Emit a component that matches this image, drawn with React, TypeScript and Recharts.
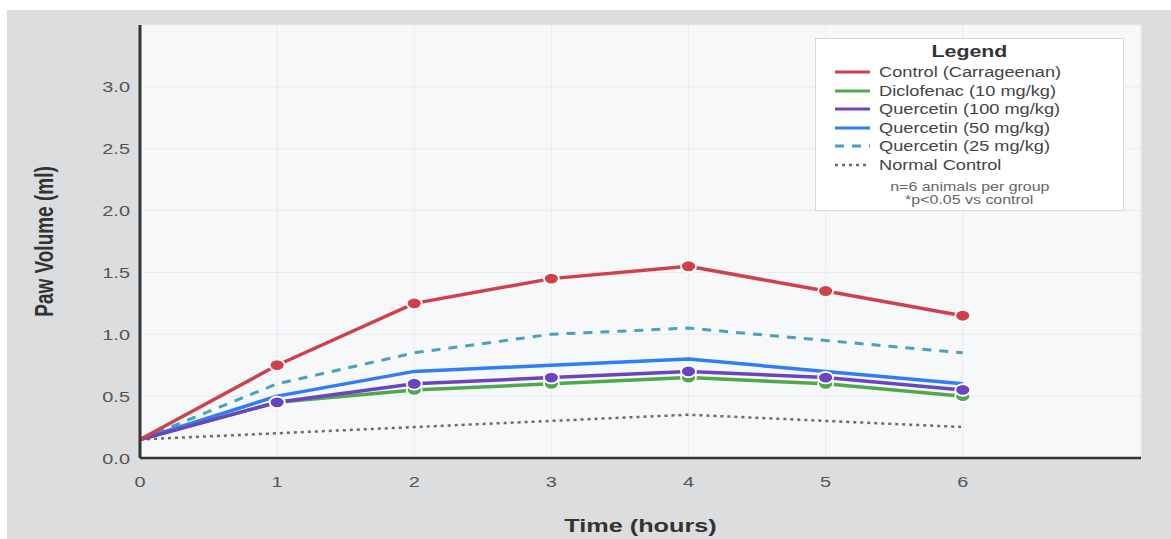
import {
    CartesianGrid,
    Label,
    Line,
    LineChart,
    XAxis,
    YAxis,
} from "recharts";

const hours = [0, 1, 2, 3, 4, 5, 6];
const control = [0.15, 0.75, 1.25, 1.45, 1.55, 1.35, 1.15];
const diclofenac = [0.15, 0.45, 0.55, 0.6, 0.65, 0.6, 0.5];
const quercetin100 = [0.15, 0.45, 0.6, 0.65, 0.7, 0.65, 0.55];
const quercetin50 = [0.15, 0.5, 0.7, 0.75, 0.8, 0.7, 0.6];
const quercetin25 = [0.15, 0.6, 0.85, 1.0, 1.05, 0.95, 0.85];
const normalControl = [0.15, 0.2, 0.25, 0.3, 0.35, 0.3, 0.25];

const xTicks = [0, 1, 2, 3, 4, 5, 6];
const yTicks = [0, 0.5, 1.0, 1.5, 2.0, 2.5, 3.0];

const data = hours.map((h, i) => ({
    time: h,
    control: control[i],
    diclofenac: diclofenac[i],
    q100: quercetin100[i],
    q50: quercetin50[i],
    q25: quercetin25[i],
    normal: normalControl[i],
}));

const series = [
    { key: "control", name: "Control (Carrageenan)", color: "#d1404a", dash: "", width: 3.5, dots: true },
    { key: "diclofenac", name: "Diclofenac (10 mg/kg)", color: "#4fa84b", dash: "", width: 3.5, dots: true },
    { key: "q100", name: "Quercetin (100 mg/kg)", color: "#6c44c2", dash: "", width: 3.5, dots: true },
    { key: "q50", name: "Quercetin (50 mg/kg)", color: "#2f7ef7", dash: "", width: 3.5, dots: false },
    { key: "q25", name: "Quercetin (25 mg/kg)", color: "#45a4bb", dash: "9 8", width: 3, dots: false },
    { key: "normal", name: "Normal Control", color: "#6b6b6b", dash: "3 4", width: 2.5, dots: false },
];

// purple is drawn over blue and green
const drawOrder = ["normal", "q25", "q50", "diclofenac", "q100", "control"];

const font = '"Liberation Sans", Arial, Helvetica, sans-serif';
const SX = 1.33; // the reference text is stretched sideways

const makeDot = (color: string) => (props: any) => {
    const { cx, cy, index } = props;
    if (index === 0) return <g key={`e-${color}-${index}`} />;
    return (
        <ellipse
            key={`d-${color}-${index}`}
            cx={cx}
            cy={cy}
            rx={7.5}
            ry={5.8}
            fill={color}
            stroke="#ffffff"
            strokeWidth={1.8}
        />
    );
};

const XTick = (props: any) => {
    const { x, y, payload } = props;
    return (
        <text
            transform={`translate(${x},${y + 29}) scale(${SX},1)`}
            textAnchor="middle"
            fontFamily={font}
            fontSize={15}
            fill="#555"
        >
            {payload.value}
        </text>
    );
};

const YTick = (props: any) => {
    const { x, y, payload } = props;
    return (
        <text
            transform={`translate(${x - 10},${y + 5.5}) scale(${SX},1)`}
            textAnchor="end"
            fontFamily={font}
            fontSize={15}
            fill="#555"
        >
            {Number(payload.value).toFixed(1)}
        </text>
    );
};

const stretch = (origin: string, s = SX): any => ({
    display: "inline-block",
    transform: `scaleX(${s})`,
    transformOrigin: origin,
    whiteSpace: "nowrap",
});

function LegendBox() {
    return (
        <div
            style={{
                position: "absolute",
                left: 808,
                top: 28,
                width: 307,
                height: 171,
                background: "#ffffff",
                border: "1px solid #d6d8dc",
                fontFamily: font,
                color: "#444",
            }}
        >
            <div style={{ textAlign: "center", fontWeight: 700, fontSize: 16, color: "#333", paddingTop: 4, height: 20 }}>
                <span style={stretch("center")}>Legend</span>
            </div>
            {series.map((s) => (
                <div key={s.key} style={{ display: "flex", alignItems: "center", height: 18.5, paddingLeft: 19 }}>
                    <svg width={35} height={8} style={{ marginRight: 9, flex: "none" }}>
                        <line
                            x1={0}
                            y1={4}
                            x2={35}
                            y2={4}
                            stroke={s.color}
                            strokeWidth={s.key === "normal" ? 2.5 : 3}
                            strokeDasharray={s.dash || undefined}
                        />
                    </svg>
                    <span style={{ fontSize: 14, ...stretch("left", 1.3) }}>{s.name}</span>
                </div>
            ))}
            <div style={{ textAlign: "center", fontSize: 12, color: "#666", marginTop: 7, lineHeight: "13px" }}>
                <span style={stretch("center")}>n=6 animals per group</span>
                <br />
                <span style={stretch("center")}>*p&lt;0.05 vs control</span>
            </div>
        </div>
    );
}

export default function App() {
    return (
        <div
            style={{
                position: "absolute",
                left: 7,
                top: 10,
                width: 1164,
                height: 529,
                background: "#dcdddf",
            }}
        >
            <LineChart
                width={1164}
                height={529}
                data={data}
                margin={{ top: 15, right: 30, left: 73, bottom: 21 }}
            >
                <CartesianGrid stroke="#e9ebef" fill="#f7f8fa" />
                <XAxis
                    dataKey="time"
                    type="number"
                    domain={[0, 7.3]}
                    ticks={xTicks}
                    height={60}
                    tickSize={0}
                    tickMargin={0}
                    axisLine={{ stroke: "#333", strokeWidth: 2.5 }}
                    tickLine={false}
                    tick={<XTick />}
                >
                    <Label
                        content={(p: any) => {
                            const cx = p.viewBox.x + p.viewBox.width / 2;
                            return (
                                <text
                                    transform={`translate(${cx},522) scale(${SX},1)`}
                                    textAnchor="middle"
                                    fontFamily={font}
                                    fontWeight={700}
                                    fontSize={19}
                                    fill="#333"
                                >
                                    Time (hours)
                                </text>
                            );
                        }}
                    />
                </XAxis>
                <YAxis
                    type="number"
                    domain={[0, 3.5]}
                    ticks={yTicks}
                    width={60}
                    tickSize={0}
                    tickMargin={0}
                    axisLine={{ stroke: "#333", strokeWidth: 3 }}
                    tickLine={false}
                    tick={<YTick />}
                >
                    <Label
                        content={(p: any) => {
                            const cy = p.viewBox.y + p.viewBox.height / 2;
                            return (
                                <text
                                    transform={`translate(38,${cy}) rotate(-90) scale(1,${SX})`}
                                    textAnchor="middle"
                                    dominantBaseline="central"
                                    fontFamily={font}
                                    fontWeight={700}
                                    fontSize={19}
                                    fill="#333"
                                >
                                    Paw Volume (ml)
                                </text>
                            );
                        }}
                    />
                </YAxis>
                {drawOrder.map((k) => {
                    const s = series.find((x) => x.key === k)!;
                    return (
                        <Line
                            key={s.key}
                            type="linear"
                            dataKey={s.key}
                            name={s.name}
                            stroke={s.color}
                            strokeWidth={s.width}
                            strokeDasharray={s.dash || undefined}
                            dot={s.dots ? makeDot(s.color) : false}
                            activeDot={false}
                            isAnimationActive={false}
                        />
                    );
                })}
            </LineChart>
            <LegendBox />
        </div>
    );
}
